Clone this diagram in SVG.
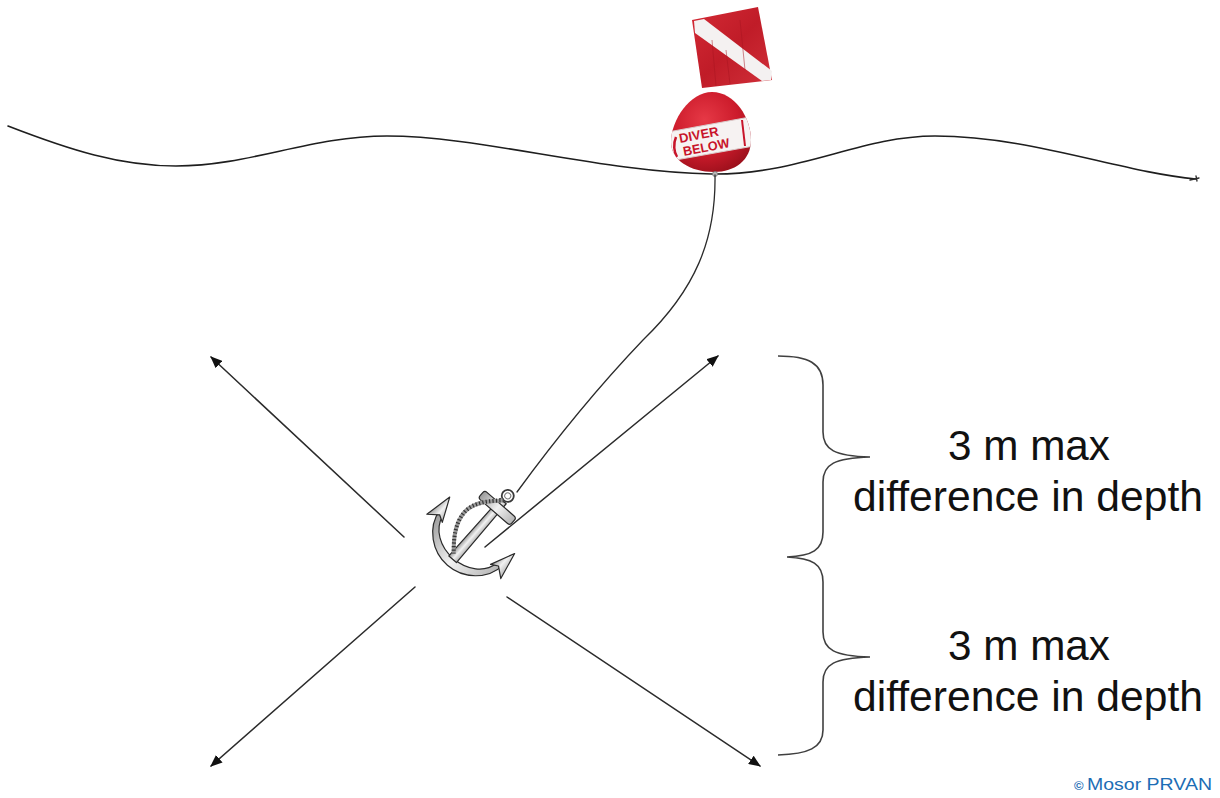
<svg xmlns="http://www.w3.org/2000/svg" width="1220" height="798" viewBox="0 0 1220 798">
  <defs>
    <style>
      .ln { fill: none; stroke: #2b2b2b; stroke-width: 1.5; stroke-linecap: round; }
      .brace { fill: none; stroke: #404040; stroke-width: 1.6; }
      .lbl { font-family: "Liberation Sans", Arial, sans-serif; font-size: 42px; fill: #111; text-anchor: middle; }
      .buoytxt { font-family: "Liberation Sans", Arial, sans-serif; font-weight: bold; font-size: 13px; fill: #c8142a; }
      .credit { font-family: "Liberation Sans", Arial, sans-serif; fill: #1c6db5; }
      .metal { fill: url(#metal); stroke: #2a2a2a; stroke-width: 1.2; stroke-linejoin: round; }
    </style>
    <marker id="ah" viewBox="0 0 12 10" refX="11" refY="5" markerWidth="12" markerHeight="10" markerUnits="userSpaceOnUse" orient="auto">
      <path d="M0,0 L12,5 L0,10 Z" fill="#111"/>
    </marker>
    <radialGradient id="buoyG" cx="0.42" cy="0.35" r="0.7">
      <stop offset="0" stop-color="#e63946"/>
      <stop offset="0.6" stop-color="#cc1b2b"/>
      <stop offset="1" stop-color="#9c101c"/>
    </radialGradient>
    <linearGradient id="flagG" x1="0" y1="0" x2="1" y2="1">
      <stop offset="0" stop-color="#d42a35"/>
      <stop offset="0.5" stop-color="#c01c28"/>
      <stop offset="1" stop-color="#d1303a"/>
    </linearGradient>
    <linearGradient id="metal" x1="0" y1="0" x2="1" y2="0">
      <stop offset="0" stop-color="#9a9a9a"/>
      <stop offset="0.5" stop-color="#f2f2f2"/>
      <stop offset="1" stop-color="#b5b5b5"/>
    </linearGradient>
    <clipPath id="buoyClip">
      <path d="M712,92 C735,92 751,118 751,140 C751,160 735,172 714,172 C690,172 671,160 671,142 C671,120 690,92 712,92 Z"/>
    </clipPath>
  </defs>

  <rect width="1220" height="798" fill="#ffffff"/>

  <!-- sea surface -->
  <g id="surface">
    <path class="ln" style="stroke:#1e1e1e;stroke-width:1.6" d="M8,126 C70,150 120,166 176,166 C250,166 310,136 387,136 C480,136 600,172 712,174 C800,175 860,136 935,136 C1030,136 1120,172 1196,179"/>
    <path class="ln" style="stroke-width:1.3" d="M1190,180 L1199,178 M1196,176 L1197,181"/>
  </g>

  <!-- flag -->
  <g id="flag">
    <path d="M692,20 L758,7 L772,80 L702,88 Z" fill="url(#flagG)"/>
    <path d="M694,21 L704,19 L772,71 L771,80 L762,81 L695,33 Z" fill="#f4f1f1"/>
    <path d="M712,40 L716,86 M740,20 L745,70 M726,50 L730,84" stroke="#a8141f" stroke-width="1" opacity="0.5" fill="none"/>
  </g>

  <!-- buoy -->
  <g id="buoy">
    <path d="M712,92 C735,92 751,118 751,140 C751,160 735,172 714,172 C690,172 671,160 671,142 C671,120 690,92 712,92 Z" fill="url(#buoyG)"/>
    <g clip-path="url(#buoyClip)">
      <path d="M668,132 L750,117 L754,146 L670,161 Z" fill="#f6f2f2"/>
      <path d="M668,132 L750,117 M670,161 L754,146" stroke="#d9c9c9" stroke-width="1" fill="none"/>
      <path d="M676,137 C673,144 674,152 677,157" stroke="#c8142a" stroke-width="2.5" fill="none"/>
      <path d="M742,120 L745,146" stroke="#c8142a" stroke-width="2" fill="none"/>
    </g>
    <text class="buoytxt" transform="translate(680,143) rotate(-11)" textLength="40" lengthAdjust="spacingAndGlyphs">DIVER</text>
    <text class="buoytxt" transform="translate(684,156) rotate(-11)" textLength="47" lengthAdjust="spacingAndGlyphs">BELOW</text>
    <circle cx="715" cy="174" r="2.5" fill="#bbb" stroke="#777" stroke-width="0.8"/>
  </g>

  <!-- connectors -->
  <g id="connectors">
    <path id="buoy-line" class="ln" style="stroke-width:1.3" d="M715,175 C716,240 695,290 643,340 C600,385 555,440 517,492"/>
    <line class="ln" x1="404" y1="537" x2="211" y2="357" marker-end="url(#ah)"/>
    <line class="ln" x1="485" y1="547" x2="718" y2="356" marker-end="url(#ah)"/>
    <line class="ln" x1="415" y1="587" x2="211" y2="766" marker-end="url(#ah)"/>
    <line class="ln" x1="507" y1="597" x2="760" y2="766" marker-end="url(#ah)"/>
  </g>

  <!-- anchor -->
  <g id="anchor" transform="translate(452,560) rotate(41)">
    <path class="metal" d="M-42,-30 C-40,-8 -20,7 0,7 C20,7 40,-8 42,-30 L36,-27 C33,-12 18,-2 0,-2 C-18,-2 -33,-12 -36,-27 Z"/>
    <path class="metal" d="M-43,-46 L-32,-22 L-39,-26 L-49,-18 Z"/>
    <path class="metal" d="M43,-46 L32,-22 L39,-26 L49,-18 Z"/>
    <path class="metal" d="M-4,-78 L4,-78 L5,-1 L-5,-1 Z"/>
    <rect class="metal" x="-21" y="-74" width="42" height="10" rx="3"/>
    <circle cx="0" cy="-85" r="6" fill="none" stroke="#3a3a3a" stroke-width="1.8"/>
    <circle cx="0" cy="-85" r="3" fill="none" stroke="#777" stroke-width="1"/>
    <path d="M0,-79 C-10,-70 -22,-58 -22,-44 C-22,-28 -10,-14 -3,-6" fill="none" stroke="#9a9a9a" stroke-width="4"/>
    <path d="M0,-79 C-10,-70 -22,-58 -22,-44 C-22,-28 -10,-14 -3,-6" fill="none" stroke="#333" stroke-width="4" stroke-dasharray="1.2,2.2"/>
  </g>

  <!-- braces -->
  <g id="braces">
    <path class="brace" d="M778,356 C808,356 823,363 823,385 L823,432 C823,450 835,456 870,457 C835,458 823,464 823,482 L823,532 C823,550 812,556 787,557 C812,558 823,564 823,582 L823,632 C823,650 835,656 870,657 C835,658 823,664 823,682 L823,730 C823,748 808,754 778,755"/>
  </g>

  <!-- labels -->
  <g id="label-upper">
    <text class="lbl" x="1029" y="460" textLength="162" lengthAdjust="spacingAndGlyphs">3 m max</text>
    <text class="lbl" x="1028" y="511" textLength="350" lengthAdjust="spacingAndGlyphs">difference in depth</text>
  </g>
  <g id="label-lower">
    <text class="lbl" x="1029" y="660" textLength="162" lengthAdjust="spacingAndGlyphs">3 m max</text>
    <text class="lbl" x="1028" y="711" textLength="350" lengthAdjust="spacingAndGlyphs">difference in depth</text>
  </g>

  <g id="credit">
    <text class="credit" x="1074" y="790" font-size="13" font-weight="bold">©</text>
    <text class="credit" x="1087" y="790" font-size="17" textLength="125" lengthAdjust="spacingAndGlyphs">Mosor PRVAN</text>
  </g>
</svg>
